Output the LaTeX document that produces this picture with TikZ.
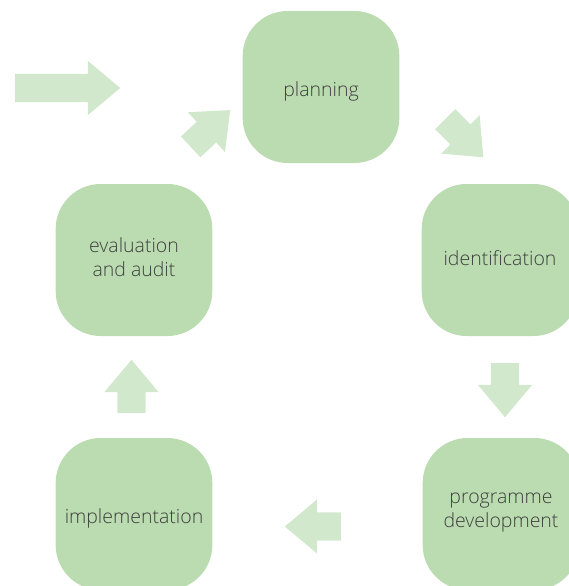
\documentclass[tikz,border=0pt]{standalone}
\usepackage{fontspec}
\setmainfont{Open Sans}[UprightFont=* Light]
\usepackage{xcolor}
\usetikzlibrary{shapes.arrows,positioning}

\definecolor{stagegreen}{HTML}{BADCB0}
\definecolor{flowgreen}{HTML}{D2E8CC}
\definecolor{labelgray}{HTML}{3F3F3F}

% label text, moved down by #1
\newcommand{\stagetext}[2]{\raisebox{-#1}[\height][\depth]{\parbox{150pt}{\centering #2}}}

\begin{document}
\begin{tikzpicture}[
    x=1pt, y=-1pt,
    stage/.style={rectangle, rounded corners=45pt, fill=stagegreen, minimum width=156pt, minimum height=152pt, align=center, text=labelgray, font=\fontsize{19.5}{24}\selectfont},
    flow/.style={single arrow, fill=flowgreen, inner xsep=0pt, inner ysep=14pt, single arrow head extend=13pt, single arrow tip angle=80, single arrow head indent=0pt, minimum width=54pt, minimum height=54pt, anchor=tail}
]
\useasboundingbox (0,0) rectangle (569,586);
\clip (0,0) rectangle (569,586);

% Cycle stages
\node[stage] (planning) at (321,87) {\stagetext{4pt}{planning}};
\node[stage] (identification) at (500,260) {\stagetext{-2pt}{identification}};
\node[stage] (development) at (501,514) {\stagetext{-1pt}{programme\\development}};
\node[stage] (implementation) at (134,514) {\stagetext{4pt}{implementation}};
\node[stage] (evaluation) at (134,260) {\stagetext{-3pt}{evaluation\\and audit}};

% Block arrows between stages
\node[flow, minimum height=105pt] (entry) at (15,88) {};
\node[flow, rotate=43] (eval_plan) at (190.5,147) {};
\node[flow, rotate=-45] (plan_ident) at (445,119) {};
\node[flow, rotate=-90] (ident_dev) at (505,363) {};
\node[flow, rotate=180, minimum height=56pt] (dev_impl) at (341,526.5) {};
\node[flow, rotate=90, minimum height=53pt] (impl_eval) at (131.5,413) {};

\end{tikzpicture}
\end{document}
